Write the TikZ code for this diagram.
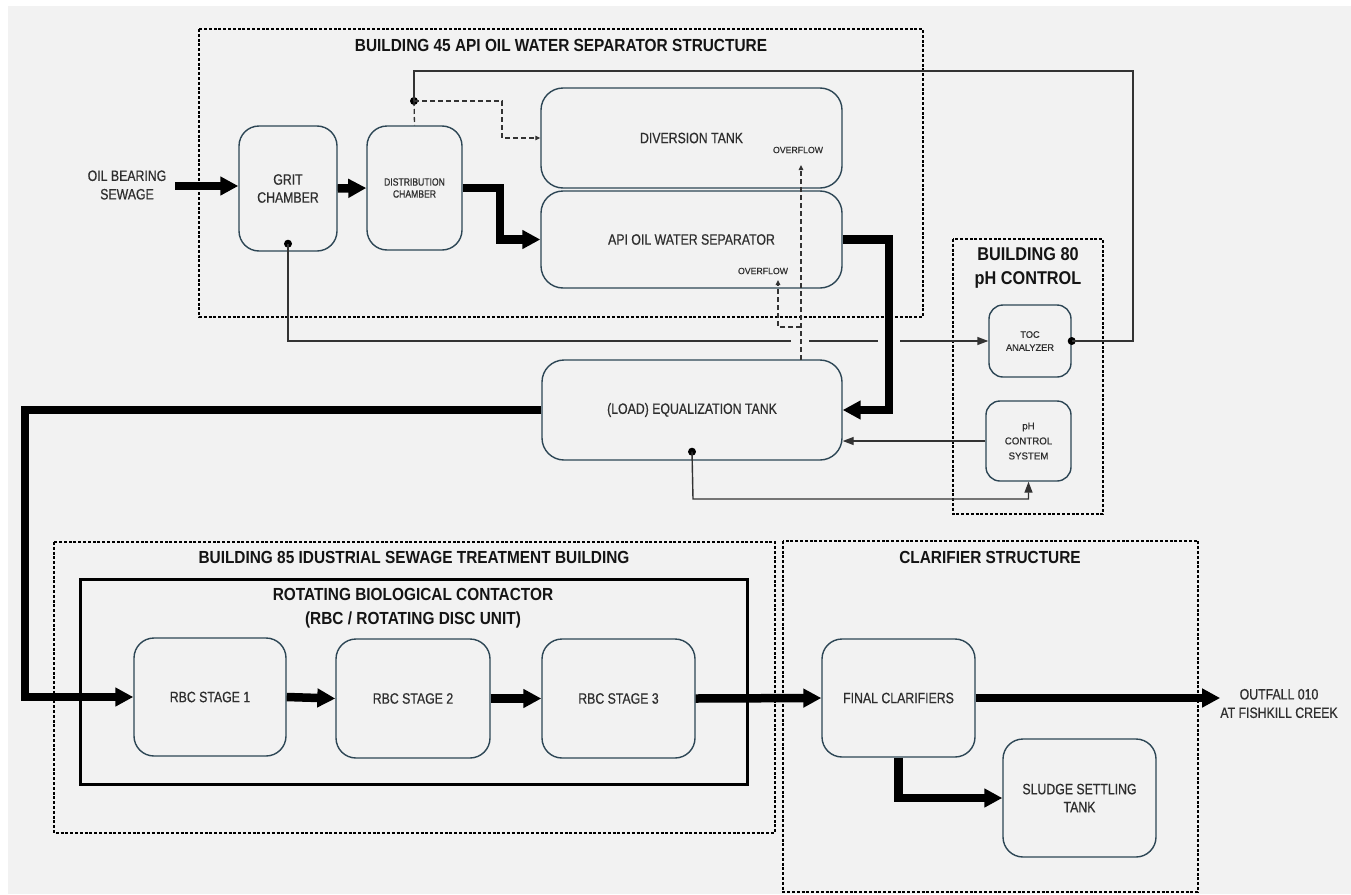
\documentclass[tikz,border=0pt]{standalone}
\usepackage{fontspec}
\newfontfamily\bxfont{Liberation Sans}[FakeStretch=0.82,FakeBold=0.6]
\newfontfamily\smfont{Liberation Sans}[FakeStretch=0.97,FakeBold=0.4]
\newfontfamily\ttlfont{Liberation Sans}[FakeStretch=0.88]
\usetikzlibrary{arrows.meta,calc}
\definecolor{bgc}{HTML}{F2F2F2}
\definecolor{edgec}{HTML}{2D4655}
\definecolor{txtc}{HTML}{2E2E2E}
\definecolor{linec}{HTML}{333333}
\begin{document}
\begin{tikzpicture}[x=1pt,y=-1pt,
  box/.style={draw=edgec, line width=1.4pt, rounded corners=20pt, inner sep=0pt, align=center, text=txtc, font=\bxfont\fontsize{15}{18}\selectfont},
  smbox/.style={box, rounded corners=14pt, font=\smfont\fontsize{9.5}{13}\selectfont},
  lbl/.style={inner sep=0pt, align=center, text=txtc, font=\bxfont\fontsize{15}{18.5}\selectfont},
  ovf/.style={inner sep=0pt, text=txtc, font=\smfont\fontsize{9}{11}\selectfont},
  ttl/.style={font=\ttlfont\bfseries\fontsize{17.5}{24}\selectfont, text=black!92, align=center, inner sep=0pt},
  grp/.style={draw=black, line width=1.1pt, dash pattern=on 3pt off 1.8pt},
  flow/.style={line width=8.5pt, draw=black, -{Triangle[length=18pt,width=18pt]}},
  thin/.style={line width=1.4pt, draw=linec},
  thinarr/.style={thin, -{Triangle[length=11pt,width=8pt]}},
  dsh/.style={line width=1.3pt, draw=linec, dash pattern=on 5pt off 3pt},
  dsharr/.style={dsh, -{Triangle[length=5pt,width=4.5pt]}},
  dot/.style={circle, fill=black, inner sep=0pt, minimum size=8pt},
  gap/.style={draw=bgc, line width=5pt},
]
% background
\fill[white] (0,0) rectangle (1351,894);
\fill[bgc] (8,6) rectangle (1351,894);
\useasboundingbox (0,0) rectangle (1351,894);

% group frames
\draw[grp] (199,29) rectangle (923,317);
\draw[grp] (953,239) rectangle (1103,514);
\draw[grp] (54,542) rectangle (775,833);
\draw[grp] (783,541) rectangle (1198,892);
\draw[black, line width=3pt] (80,579) rectangle (747,784);

% titles
\node[ttl] (t45) at (561,45) {BUILDING 45 API OIL WATER SEPARATOR STRUCTURE};
\node[ttl, font=\ttlfont\bfseries\fontsize{18.5}{24}\selectfont] (t80) at (1028,268) {BUILDING 80\\pH CONTROL};
\node[ttl] (t85) at (414,557) {BUILDING 85 IDUSTRIAL SEWAGE TREATMENT BUILDING};
\node[ttl] (trbc) at (413,608) {ROTATING BIOLOGICAL CONTACTOR\\(RBC / ROTATING DISC UNIT)};
\node[ttl] (tcl) at (990,557) {CLARIFIER STRUCTURE};

% process boxes
\node[box, minimum width=98pt, minimum height=125pt] (grit) at (288,188.5) {GRIT\\CHAMBER};
\node[box, minimum width=95pt, minimum height=124pt, font=\bxfont\fontsize{10.5}{12}\selectfont] (dist) at (414.5,188) {DISTRIBUTION\\CHAMBER};
\node[box, rounded corners=22pt, minimum width=301pt, minimum height=100pt] (div) at (691.5,138) {DIVERSION TANK};
\node[box, rounded corners=22pt, minimum width=301pt, minimum height=97pt] (api) at (691.5,239.5) {API OIL WATER SEPARATOR};
\node[smbox, minimum width=82pt, minimum height=72pt] (toc) at (1030,341) {TOC\\ANALYZER};
\node[smbox, minimum width=85pt, minimum height=80pt, font=\smfont\fontsize{10}{15}\selectfont] (ph) at (1028.5,441) {pH\\CONTROL\\SYSTEM};
\node[box, rounded corners=22pt, minimum width=300pt, minimum height=100pt] (eq) at (692,410) {(LOAD) EQUALIZATION TANK};
\node[box, minimum width=152pt, minimum height=118pt] (r1) at (210,697) {RBC STAGE 1};
\node[box, minimum width=154pt, minimum height=119pt] (r2) at (413,698.5) {RBC STAGE 2};
\node[box, minimum width=153pt, minimum height=119pt] (r3) at (618.5,698.5) {RBC STAGE 3};
\node[box, minimum width=153pt, minimum height=118pt] (fc) at (898.5,698) {FINAL CLARIFIERS};
\node[box, minimum width=153pt, minimum height=118pt] (sl) at (1079.5,798) {SLUDGE SETTLING\\TANK};

% free labels
\node[lbl] (oil) at (127,185) {OIL BEARING\\SEWAGE};
\node[lbl] (out) at (1279,703.5) {OUTFALL 010\\AT FISHKILL CREEK};
\node[ovf] (ovf1) at (798,150) {OVERFLOW};
\node[ovf] (ovf2) at (763,271) {OVERFLOW};

% helper coordinates
\coordinate (j) at (414,101);
\coordinate (tr) at (1133,71);
\coordinate (dv) at (502,138);
\coordinate (o1b) at (801,360);
\coordinate (o1t) at (801,165);
\coordinate (o2j) at (801,327);
\coordinate (o2b) at (778,327);
\coordinate (o2t) at (778,280);
\coordinate (eqb) at (693,499);
\coordinate (dmid) at (500,210);
\coordinate (amid) at (889,320);
\coordinate (lmid) at (25,550);
\coordinate (oilstart) at (175,186);

% dots
\node[dot] (gd) at ([yshift=8pt]grit.south) {};
\node[dot] (td) at (toc.east) {};
\node[dot] (jd) at (j) {};
\node[dot] (ed) at ([yshift=9pt]eq.south) {};

% thin control lines
\draw[thinarr] (gd.center) |- (toc.west);
\draw[gap] (791,341) -- (809,341);
\draw[gap] (878,341) -- (900,341);
\draw[thin] (td.center) -| (tr) -| (jd.center);
\draw[dsh] (jd.center) -- (dist.north);
\draw[dsharr] (jd.center) -| (dv) -- (div.west);
\draw[thinarr] (ph.west) -- (ph.west -| eq.east);
\draw[thinarr] (ed.center) -- (eqb) -| (ph.south);

% overflow lines
\draw[dsharr] (o1b) -- (o1t);
\draw[dsharr] (o2j) -- (o2b) -- (o2t);

% main flow
\draw[flow] (oilstart) -- (oilstart -| grit.west);
\draw[flow] (grit.east) -- (dist.west);
\draw[flow] (dist.east) -| (dmid) |- (api.west);
\draw[flow] (api.east) -| (amid) |- (eq.east);
\draw[flow] (eq.west) -| (lmid) |- (r1.west);
\draw[flow] (r1.east) -- (r2.west);
\draw[flow] (r2.east) -- (r3.west);
\draw[flow] (r3.east) -- (fc.west);
\draw[flow] (fc.east) -- (fc.east -| out.west);
\draw[flow] (fc.south) |- (sl.west);
\end{tikzpicture}
\end{document}
